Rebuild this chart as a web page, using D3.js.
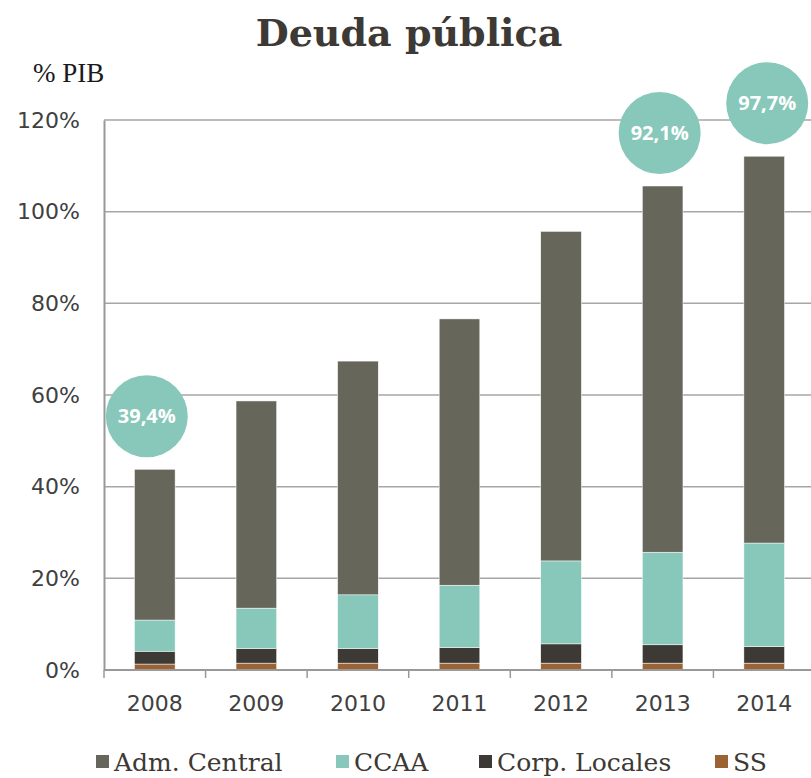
<!DOCTYPE html>
<html>
<head>
<meta charset="utf-8">
<script src="https://cdn.jsdelivr.net/npm/d3@7"></script>
<style>
  body { margin: 0; background: #fff; }
</style>
</head>
<body>
<div id="chart"></div>
<script>
// data (% PIB)
let years = ["2008", "2009", "2010", "2011", "2012", "2013", "2014"];
let ss = [1.3, 1.5, 1.5, 1.5, 1.5, 1.5, 1.5];
let corpLocales = [2.8, 3.2, 3.2, 3.4, 4.2, 4.0, 3.6];
let ccaa = [6.8, 8.8, 11.7, 13.6, 18.1, 20.2, 22.6];
let admCentral = [32.9, 45.2, 51.0, 58.1, 71.9, 79.9, 84.4];
let yTicks = [0, 20, 40, 60, 80, 100, 120];
let bubbleYears = ["2008", "2013", "2014"];
let bubbleLabels = ["39,4%", "92,1%", "97,7%"];

let seriesNames = ["Adm. Central", "CCAA", "Corp. Locales", "SS"];
let stackKeys = ["SS", "Corp. Locales", "CCAA", "Adm. Central"];
let colors = {
  "Adm. Central": "#66665b",
  "CCAA": "#88c8bb",
  "Corp. Locales": "#3d3934",
  "SS": "#9b6333"
};

let width = 811,
    height = 778;

let rows = years.map(function(y, i) {
  return { year: y, "SS": ss[i], "Corp. Locales": corpLocales[i], "CCAA": ccaa[i], "Adm. Central": admCentral[i] };
});

let x = d3.scaleBand()
      .domain(years)
      .range([104, 815])
      .paddingInner(0.6)
      .paddingOuter(0.3);

let y = d3.scaleLinear()
      .domain([0, 120])
      .range([670, 120]);

let svg = d3.select("#chart")
      .append("svg")
      .attr("width", width)
      .attr("height", height);

// title
svg.append("text")
    .attr("x", 409)
    .attr("y", 46)
    .attr("text-anchor", "middle")
    .style("font-family", "'DejaVu Serif', serif")
    .style("font-weight", "bold")
    .style("font-size", "38px")
    .style("fill", "#3d3934")
    .text("Deuda pública");

svg.append("text")
    .attr("x", 33)
    .attr("y", 82)
    .style("font-family", "'Liberation Serif', serif")
    .style("font-size", "27px")
    .style("fill", "#1a1a1a")
    .text("% PIB");

// gridlines
svg.append("g")
    .selectAll("line")
    .data(yTicks.slice(1))
    .enter().append("line")
    .attr("x1", 104)
    .attr("x2", width)
    .attr("y1", function(d) { return y(d); })
    .attr("y2", function(d) { return y(d); })
    .style("stroke", "#a6a6a6")
    .style("stroke-width", 1.5);

// y axis
let yAxis = svg.append("g")
      .attr("transform", "translate(104,0)")
      .call(d3.axisLeft(y).tickValues(yTicks).tickSize(0).tickPadding(24)
        .tickFormat(function(d) { return d + "%"; }));
yAxis.select(".domain").style("stroke", "#999").style("stroke-width", 2);
yAxis.selectAll("text")
    .style("font-family", "'DejaVu Sans', sans-serif")
    .style("font-size", "22px")
    .style("fill", "#404040");

// stacked bars
let stack = d3.stack().keys(stackKeys)(rows);

svg.append("g")
    .selectAll("g")
    .data(stack)
    .enter().append("g")
    .style("fill", function(d) { return colors[d.key]; })
    .selectAll("rect")
    .data(function(d) { return d; })
    .enter().append("rect")
    .attr("x", function(d) { return x(d.data.year); })
    .attr("width", x.bandwidth())
    .attr("y", function(d) { return y(d[1]); })
    .attr("height", function(d) { return y(d[0]) - y(d[1]); })
    .style("stroke", "#fff")
    .style("stroke-width", 0.5);

// x axis
let xAxis = svg.append("g")
      .attr("transform", "translate(0,670)")
      .call(d3.axisBottom(x).tickSize(0).tickPadding(25));
xAxis.select(".domain").attr("d", "M104,0H" + width).style("stroke", "#999").style("stroke-width", 2);
xAxis.selectAll("text")
    .style("font-family", "'DejaVu Sans', sans-serif")
    .style("font-size", "22px")
    .style("fill", "#404040");

// category separator ticks
let step = x.step();
svg.append("g")
    .selectAll("line")
    .data(years)
    .enter().append("line")
    .attr("x1", function(d) { return x(d) + x.bandwidth() / 2 - step / 2; })
    .attr("x2", function(d) { return x(d) + x.bandwidth() / 2 - step / 2; })
    .attr("y1", 670)
    .attr("y2", 678)
    .style("stroke", "#999")
    .style("stroke-width", 1.5);

// bubbles
let totals = {};
rows.forEach(function(r) { totals[r.year] = r["SS"] + r["Corp. Locales"] + r["CCAA"] + r["Adm. Central"]; });

let bubbles = svg.append("g")
      .selectAll("g")
      .data(bubbleYears)
      .enter().append("g")
      .attr("transform", function(d, i) {
        let dx = i === 0 ? -8 : (i === 1 ? -3 : 3);
        return "translate(" + (x(d) + x.bandwidth() / 2 + dx) + "," + (y(totals[d]) - 53) + ")";
      });

bubbles.append("circle")
    .attr("r", 41)
    .style("fill", "#88c8bb");

bubbles.append("text")
    .attr("text-anchor", "middle")
    .attr("dy", "0.36em")
    .style("font-family", "'Open Sans', sans-serif")
    .style("font-weight", "bold")
    .style("font-size", "20px")
    .style("fill", "#fff")
    .text(function(d, i) { return bubbleLabels[i]; });

// legend
let legendX = [96, 336, 479, 715];
let legend = svg.append("g")
      .selectAll("g")
      .data(seriesNames)
      .enter().append("g")
      .attr("transform", function(d, i) { return "translate(" + legendX[i] + ",755)"; });

legend.append("rect")
    .attr("width", 13)
    .attr("height", 13)
    .style("fill", function(d) { return colors[d]; });

legend.append("text")
    .attr("x", 18)
    .attr("y", 16)
    .style("font-family", "'DejaVu Serif', serif")
    .style("font-size", "25px")
    .style("fill", "#3d3934")
    .text(function(d) { return d; });
</script>
</body>
</html>
